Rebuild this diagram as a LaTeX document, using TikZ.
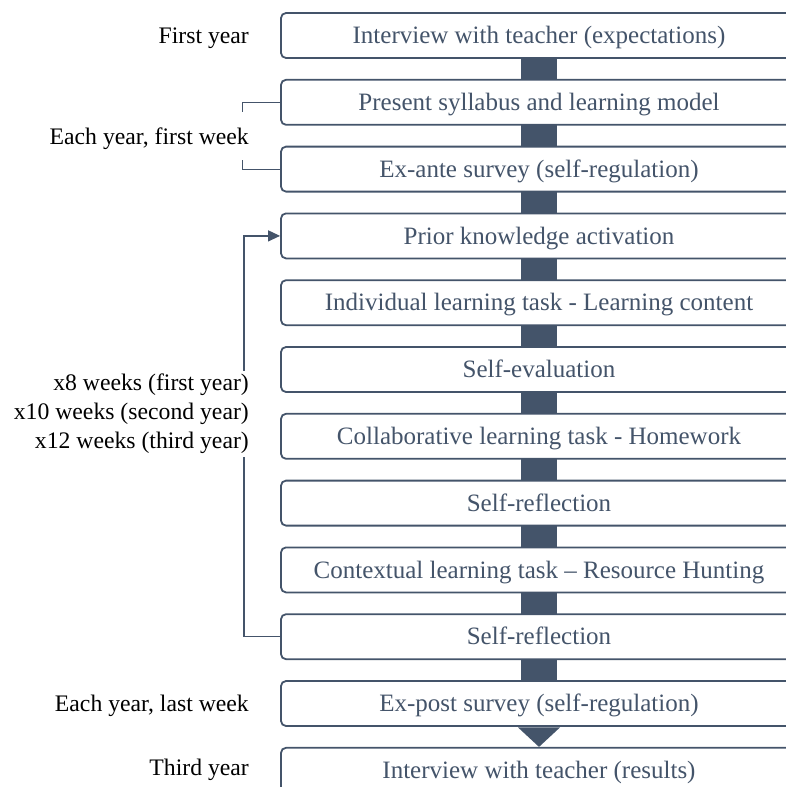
\documentclass[tikz,border=0pt]{standalone}
\usepackage{fontspec}
\setmainfont{Liberation Serif}[Ligatures=TeX]
\newfontfamily\tnr{Liberation Serif}
\usetikzlibrary{arrows.meta,calc,backgrounds}
\definecolor{slate}{HTML}{44546A}
\begin{document}
\begin{tikzpicture}[x=1pt,y=-1pt,
  stepbox/.style={draw=slate, line width=1.8pt, rounded corners=5pt, fill=white,
    minimum width=516pt, minimum height=45pt, text=slate, inner sep=0pt,
    text height=16.5pt, text depth=0pt,
    font=\tnr\fontsize{25}{29}\selectfont},
  lab/.style={anchor=east, font=\tnr\fontsize{23.7}{29}\selectfont, align=right, text=black, inner sep=1pt},
  onelab/.style={lab, text height=15.7pt, text depth=0pt},
  thinline/.style={draw=slate, line width=1pt},
  loopline/.style={draw=slate, line width=1.2pt},
  bar/.style={draw=slate, line width=36pt}]
\useasboundingbox (0,0) rectangle (786,787);
\clip (0,0) rectangle (786,787);

\node[stepbox] (b1)  at (539,35.5)  {Interview with teacher (expectations)};
\node[stepbox] (b2)  at (539,102.3) {Present syllabus and learning model};
\node[stepbox] (b3)  at (539,169.1) {Ex-ante survey (self-regulation)};
\node[stepbox] (b4)  at (539,235.9) {Prior knowledge activation};
\node[stepbox] (b5)  at (539,302.7) {Individual learning task - Learning content};
\node[stepbox] (b6)  at (539,369.5) {Self-evaluation};
\node[stepbox] (b7)  at (539,436.3) {Collaborative learning task - Homework};
\node[stepbox] (b8)  at (539,503.1) {Self-reflection};
\node[stepbox] (b9)  at (539,569.9) {Contextual learning task – Resource Hunting};
\node[stepbox] (b10) at (539,636.7) {Self-reflection};
\node[stepbox] (b11) at (539,703.5) {Ex-post survey (self-regulation)};
\node[stepbox] (b12) at (539,770.3) {Interview with teacher (results)};

\begin{scope}[on background layer]
  \foreach \a/\b in {b1/b2,b2/b3,b3/b4,b4/b5,b5/b6,b6/b7,b7/b8,b8/b9,b9/b10,b10/b11}
    \draw[bar] (\a.center) -- (\b.center);
\end{scope}
\fill[slate] ($(b11.south)+(-21,0.5)$) -- ($(b11.south)+(21,0.5)$) -- (b12.north) -- cycle;

% left labels
\node[onelab] (l1) at (250,36) {First year};
\node[onelab] (l2) at (250,137) {Each year, first week};
\node[onelab] (l4) at (250,704) {Each year, last week};
\node[onelab] (l5) at (250,768) {Third year};

% brackets
\coordinate (k1) at (242,112);
\coordinate (k2) at (242,160);
\draw[thinline] (b2.west) -| (k1);
\draw[thinline] (b3.west) -| (k2);

% loop
\coordinate (lt) at (244,235.9);
\draw[loopline, -{Triangle[length=12pt,width=11pt]}] (b10.west) -| (lt) -- (b4.west);
\node[lab, fill=white, inner sep=3pt] (l3) at (252,414)
  {x8 weeks (first year)\\x10 weeks (second year)\\x12 weeks (third year)};
\end{tikzpicture}
\end{document}
